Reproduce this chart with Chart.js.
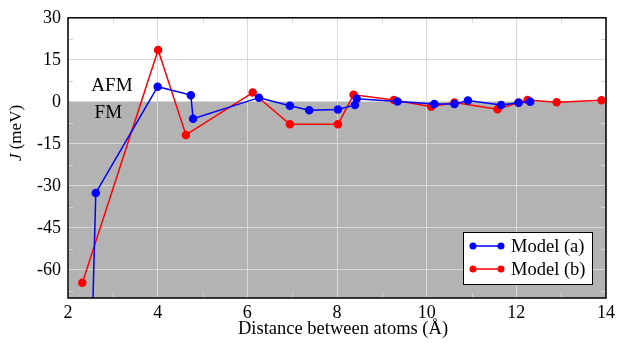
<!DOCTYPE html>
<html>
<head>
<meta charset="utf-8">
<script src="https://cdn.jsdelivr.net/npm/chart.js@4/dist/chart.umd.min.js"></script>
<style>
  body { margin: 0; background: #fff; }
  #wrap { width: 628px; height: 343px; }
</style>
</head>
<body>
<div id="wrap"><canvas id="jChart"></canvas></div>
<script>
// exchange coupling vs distance
const xA = [2.5, 2.62, 4.0, 4.74, 4.79, 6.26, 6.95, 7.38, 8.02, 8.40, 8.44, 9.35, 10.17, 10.62, 10.92, 11.66, 12.05, 12.31];
const yA = [-105, -32.5, 5.4, 2.4, -6.0, 1.5, -1.4, -3.0, -2.7, -1.1, 1.1, 0.1, -0.8, -0.8, 0.5, -1.1, -0.3, 0.0];
const xB = [2.32, 4.01, 4.63, 6.12, 6.95, 8.02, 8.37, 9.27, 10.10, 10.62, 11.58, 12.05, 12.25, 12.90, 13.90];
const yB = [-64.6, 18.5, -11.8, 3.3, -8.0, -8.0, 2.5, 0.7, -1.7, -0.2, -2.6, -0.2, 0.7, -0.1, 0.6];

const seriesNames = ['Model (a)', 'Model (b)'];
const xTicks = [2, 4, 6, 8, 10, 12, 14];
const yTicks = [-60, -45, -30, -15, 0, 15, 30];
const xMinor = [3, 5, 7, 9, 11, 13];
const yMinor = [22.5, 7.5, -7.5, -22.5, -37.5, -52.5, -67.5];
const xTitle = 'Distance between atoms (Å)';

const FONT = 'Liberation Serif';

function toPoints(xs, ys) {
    return xs.map((x, i) => ({ x: x, y: ys[i] }));
}

//gray area below J = 0, drawn under the grid
const fmShade = {
    id: 'fmShade',
    beforeDraw(chart) {
        const { ctx, chartArea, scales } = chart;
        ctx.save();
        ctx.fillStyle = '#fff';
        ctx.fillRect(0, 0, chart.width, chart.height);
        const y0 = scales.y.getPixelForValue(0);
        ctx.fillStyle = '#b3b3b3';
        ctx.fillRect(chartArea.left, y0, chartArea.right - chartArea.left, chartArea.bottom - y0);
        ctx.restore();
    }
};

//frame, minor ticks, AFM/FM labels, legend, axis titles
const decorations = {
    id: 'decorations',
    afterDraw(chart) {
        const { ctx, chartArea, scales } = chart;
        const a = chartArea;
        ctx.save();

        // minor ticks inside the frame
        ctx.strokeStyle = '#d6d6d6';
        ctx.lineWidth = 1;
        ctx.beginPath();
        xMinor.forEach(v => {
            const px = Math.round(scales.x.getPixelForValue(v)) + 0.5;
            ctx.moveTo(px, a.bottom); ctx.lineTo(px, a.bottom - 5);
            ctx.moveTo(px, a.top); ctx.lineTo(px, a.top + 5);
        });
        yMinor.forEach(v => {
            const py = Math.round(scales.y.getPixelForValue(v)) + 0.5;
            ctx.moveTo(a.left, py); ctx.lineTo(a.left + 5, py);
            ctx.moveTo(a.right, py); ctx.lineTo(a.right - 5, py);
        });
        ctx.stroke();

        // frame
        ctx.strokeStyle = '#000';
        ctx.lineWidth = 1.5;
        ctx.strokeRect(a.left, a.top, a.right - a.left, a.bottom - a.top);

        // AFM / FM
        ctx.fillStyle = '#000';
        ctx.font = '19px "' + FONT + '"';
        ctx.textAlign = 'center';
        ctx.textBaseline = 'middle';
        ctx.fillText('AFM', scales.x.getPixelForValue(2.98), scales.y.getPixelForValue(5.7));
        ctx.fillText('FM', scales.x.getPixelForValue(2.9), scales.y.getPixelForValue(-3.9));

        // x title
        ctx.font = '18.5px "' + FONT + '"';
        ctx.textBaseline = 'alphabetic';
        ctx.fillText(xTitle, (a.left + a.right) / 2 + 6, 334);

        // legend box
        const bw = 129, bh = 52;
        const bx = a.right - 14 - bw, by = a.bottom - 14 - bh;
        ctx.font = '18.5px "' + FONT + '"';
        ctx.textBaseline = 'middle';
        ctx.fillStyle = '#fff';
        ctx.fillRect(bx, by, bw, bh);
        ctx.strokeStyle = '#000';
        ctx.lineWidth = 1;
        ctx.strokeRect(bx + 0.5, by + 0.5, bw, bh);
        chart.data.datasets.forEach((ds, i) => {
            const ry = by + 14 + i * 23;
            ctx.strokeStyle = ds.borderColor;
            ctx.fillStyle = ds.borderColor;
            ctx.lineWidth = 1.5;
            ctx.beginPath();
            ctx.moveTo(bx + 10, ry); ctx.lineTo(bx + 38, ry);
            ctx.stroke();
            [bx + 10, bx + 38].forEach(px => {
                ctx.beginPath();
                ctx.arc(px, ry, 3.5, 0, Math.PI * 2);
                ctx.fill();
            });
            ctx.fillStyle = '#000';
            ctx.textAlign = 'left';
            ctx.fillText(ds.label, bx + 48, ry + 1);
        });

        // y title: italic J then (meV)
        ctx.translate(17, 133);
        ctx.rotate(-Math.PI / 2);
        ctx.textBaseline = 'middle';
        ctx.textAlign = 'left';
        ctx.font = 'italic 17px "' + FONT + '"';
        const wJ = ctx.measureText('J').width;
        ctx.font = '17px "' + FONT + '"';
        const wRest = ctx.measureText(' (meV)').width;
        const start = -(wJ + wRest) / 2;
        ctx.font = 'italic 17px "' + FONT + '"';
        ctx.fillText('J', start, 0);
        ctx.font = '17px "' + FONT + '"';
        ctx.fillText(' (meV)', start + wJ, 0);

        ctx.restore();
    }
};

const ctx = document.getElementById('jChart').getContext('2d');
const jChart = new Chart(ctx, {
    type: 'scatter',
    data: {
        datasets: [{
            label: seriesNames[0],
            data: toPoints(xA, yA),
            showLine: true,
            borderColor: '#0000ff',
            backgroundColor: '#0000ff',
            borderWidth: 1.5,
            pointRadius: 3.5,
            pointHoverRadius: 3.5
        }, {
            label: seriesNames[1],
            data: toPoints(xB, yB),
            showLine: true,
            borderColor: '#ff0000',
            backgroundColor: '#ff0000',
            borderWidth: 1.5,
            pointRadius: 3.5,
            pointHoverRadius: 3.5
        }]
    },
    options: {
        responsive: true,
        maintainAspectRatio: false,
        animation: false,
        layout: { padding: { left: 0, top: 17, right: 22, bottom: 0 } },
        plugins: {
            legend: { display: false },
            tooltip: { enabled: false }
        },
        scales: {
            x: {
                type: 'linear',
                min: 2,
                max: 14,
                afterBuildTicks: s => { s.ticks = xTicks.map(v => ({ value: v })); },
                afterFit: s => { s.height = 45; },
                grid: { color: '#d9d9d9', drawTicks: false },
                border: { display: false },
                ticks: { color: '#000', padding: 4, font: { family: FONT, size: 18 } }
            },
            y: {
                type: 'linear',
                min: -70,
                max: 30,
                afterBuildTicks: s => { s.ticks = yTicks.map(v => ({ value: v })); },
                afterFit: s => { s.width = 68; },
                grid: { color: '#d9d9d9', drawTicks: false },
                border: { display: false },
                ticks: { color: '#000', padding: 7, font: { family: FONT, size: 18 } }
            }
        }
    },
    plugins: [fmShade, decorations]
});
</script>
</body>
</html>
